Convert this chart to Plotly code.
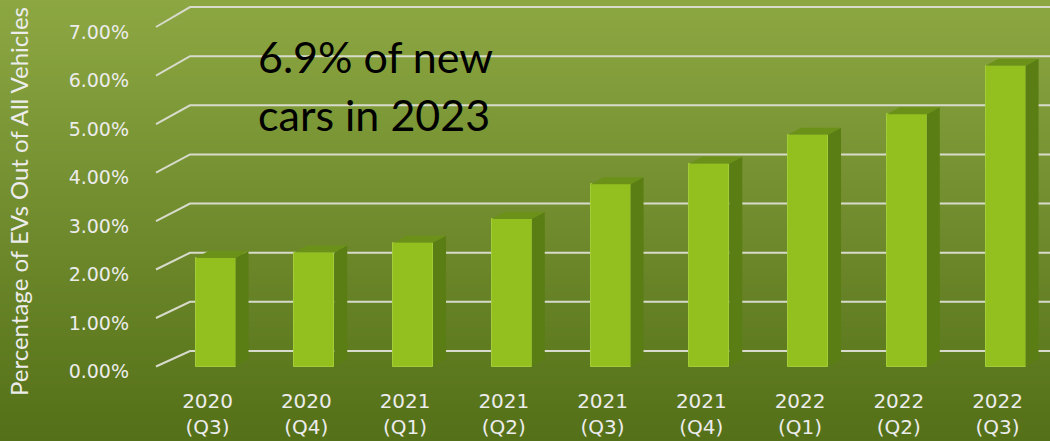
import plotly.graph_objects as go

# ---- data -------------------------------------------------------------
quarters = ["2020<br>(Q3)", "2020<br>(Q4)", "2021<br>(Q1)", "2021<br>(Q2)", "2021<br>(Q3)",
            "2021<br>(Q4)", "2022<br>(Q1)", "2022<br>(Q2)", "2022<br>(Q3)"]
ev_share = [2.24, 2.35, 2.55, 3.04, 3.76, 4.18, 4.78, 5.20, 6.20]   # percent
y_ticks = [0, 1, 2, 3, 4, 5, 6, 7]
y_tick_labels = ["0.00%", "1.00%", "2.00%", "3.00%", "4.00%", "5.00%", "6.00%", "7.00%"]
note_lines = ["6.9% of new", "cars in 2023"]
y_title = "Percentage of EVs Out of All Vehicles"

# ---- pseudo-3D geometry (axis units) ---------------------------------
X_RANGE = [-0.6633, 8.4506]
Y_RANGE = [-0.278, 7.557]
BAR_WIDTH = 0.405
DEPTH_DX, DEPTH_DY = 0.132, 0.144
WALL_X_FRONT, WALL_X_BACK = -0.6025, -0.258
WALL_LIFT, WALL_SCALE = 0.32, 1.013
LABEL_SHIFT = -0.08      # category labels sit slightly left of the column fronts
LABEL_DROP = 0.10        # value labels sit slightly below the floor-line ends

FRONT = "#93c01f"
SIDE = "#5a7d14"
TOP = "#6b9119"
GRID = "#d8dbcc"
TEXT = "#ececec"

W, H = 1050, 441
M_L, M_R, M_T, M_B = 150, 0, 0, 61
px_w = W - M_L - M_R
px_h = H - M_T - M_B

fig = go.Figure()
xs = list(range(len(ev_share)))

# front faces of the columns
fig.add_trace(go.Bar(
    x=xs, y=ev_share, width=BAR_WIDTH,
    marker=dict(color=FRONT, line=dict(color="#a3cd38", width=1)),
    hoverinfo="skip", showlegend=False,
))

# side and top faces give the columns depth
for x, v in zip(xs, ev_share):
    xl, xr = x - BAR_WIDTH / 2, x + BAR_WIDTH / 2
    fig.add_trace(go.Scatter(
        x=[xr, xr + DEPTH_DX, xr + DEPTH_DX, xr, xr],
        y=[0, DEPTH_DY, v + DEPTH_DY, v, 0],
        mode="lines", fill="toself", fillcolor=SIDE, line=dict(width=0),
        hoverinfo="skip", showlegend=False,
    ))
    fig.add_trace(go.Scatter(
        x=[xl, xl + DEPTH_DX, xr + DEPTH_DX, xr, xl],
        y=[v, v + DEPTH_DY, v + DEPTH_DY, v, v],
        mode="lines", fill="toself", fillcolor=TOP, line=dict(width=0),
        hoverinfo="skip", showlegend=False,
    ))

shapes = []

# vertical background gradient over the whole figure (paper coordinates)
top_rgb = (140, 167, 66)
bot_rgb = (84, 112, 24)
band = 3
for i in range(0, H, band):
    t = i / (H - 1)
    c = tuple(round(a + (b - a) * t) for a, b in zip(top_rgb, bot_rgb))
    y_top = (H - M_B - i) / px_h
    y_bot = (H - M_B - i - band - 1) / px_h
    shapes.append(dict(
        type="rect", xref="paper", yref="paper", layer="below",
        x0=-M_L / px_w, x1=1.0, y0=y_bot, y1=y_top,
        fillcolor="rgb(%d,%d,%d)" % c, line=dict(width=0),
    ))

# back-wall gridlines with their diagonal floor-to-wall connectors
for v in y_ticks:
    vb = WALL_LIFT + WALL_SCALE * v
    shapes.append(dict(
        type="path", xref="x", yref="y", layer="below",
        path="M %f,%f L %f,%f L %f,%f" % (WALL_X_FRONT, v, WALL_X_BACK, vb, X_RANGE[1] + 0.2, vb),
        line=dict(color=GRID, width=2),
    ))

annotations = [
    # rotated value-axis title
    dict(text=y_title, textangle=-90, xref="paper", yref="paper",
         x=(18 - M_L) / px_w, y=(H - M_B - 202) / px_h,
         xanchor="center", yanchor="middle", showarrow=False,
         font=dict(family="Lato", size=24, color=TEXT)),
]
# callout text, one annotation per line (anchored just below each baseline)
for line, base_px in zip(note_lines, [72, 130]):
    annotations.append(dict(
        text=line, xref="paper", yref="paper",
        x=(256 - M_L) / px_w, y=(H - M_B - (base_px + 12)) / px_h,
        xanchor="left", yanchor="bottom", align="left", showarrow=False,
        font=dict(family="Lato", size=43, color="#000000"),
    ))

fig.update_layout(
    width=W, height=H,
    margin=dict(l=M_L, r=M_R, t=M_T, b=M_B, pad=0, autoexpand=False),
    paper_bgcolor="#6f8c2d", plot_bgcolor="rgba(0,0,0,0)",
    shapes=shapes,
    annotations=annotations,
    showlegend=False,
    bargap=0,
    xaxis=dict(
        range=X_RANGE, showgrid=False, zeroline=False, showline=False, automargin=False,
        tickmode="array", tickvals=[x + LABEL_SHIFT for x in xs], ticktext=quarters,
        ticks="", ticklabelstandoff=7,
        tickfont=dict(family="DejaVu Sans", size=20, color=TEXT),
        fixedrange=True,
    ),
    yaxis=dict(
        range=Y_RANGE, showgrid=False, zeroline=False, showline=False, automargin=False,
        tickmode="array", tickvals=[v - LABEL_DROP for v in y_ticks], ticktext=y_tick_labels,
        ticks="", ticklabelstandoff=20,
        tickfont=dict(family="DejaVu Sans", size=19, color=TEXT),
        fixedrange=True,
    ),
)

fig.write_html("out.html", config={"displayModeBar": False})
